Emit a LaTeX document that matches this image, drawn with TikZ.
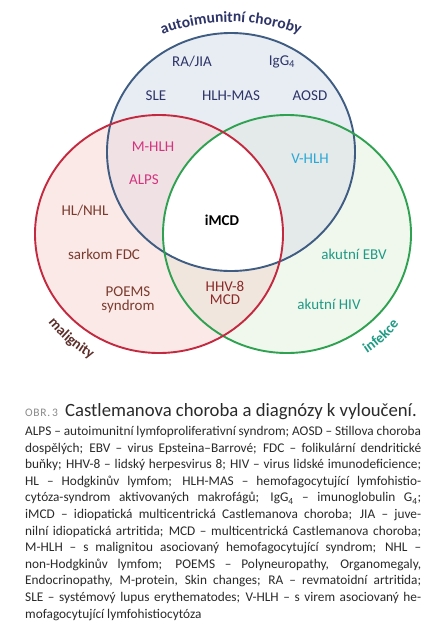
\documentclass[tikz,border=0pt]{standalone}
\usepackage{fontspec}
\setmainfont{Carlito}
\usetikzlibrary{decorations.text}
\definecolor{bfill}{HTML}{E7EDF3}
\definecolor{rfill}{HTML}{FBE9E7}
\definecolor{gfill}{HTML}{F0F8EE}
\definecolor{rbfill}{HTML}{EFE1E4}
\definecolor{gbfill}{HTML}{E4E9EA}
\definecolor{rgfill}{HTML}{F1E6DD}
\definecolor{bline}{HTML}{3F5C82}
\definecolor{rline}{HTML}{C32A40}
\definecolor{gline}{HTML}{2FA251}
\definecolor{navy}{HTML}{2D3468}
\definecolor{magen}{HTML}{D6337F}
\definecolor{cyanl}{HTML}{29A9D6}
\definecolor{brownl}{HTML}{7A3B2E}
\definecolor{hhv}{HTML}{8A2A2A}
\definecolor{teall}{HTML}{1F9A84}
\definecolor{malcol}{HTML}{5C2E2A}
\definecolor{capgrey}{HTML}{8A8A8A}
\definecolor{txt}{HTML}{2A2A2A}
\tikzset{
  lab/.style={inner sep=0pt, align=center, font=\fontsize{15}{15}\selectfont},
  ring/.style={line width=1.9pt},
}
\begin{document}
\begin{tikzpicture}[x=1pt,y=-1pt]
\useasboundingbox[fill=white] (0,0) rectangle (442,633);
\coordinate (B) at (231,152);
\coordinate (R) at (159,234);
\coordinate (G) at (287,234);
% region fills
\fill[rfill] (R) ellipse[x radius=124, y radius=119];
\fill[gfill] (G) ellipse[x radius=124, y radius=119];
\fill[bfill] (B) ellipse[x radius=124, y radius=119];
\begin{scope}
  \clip (R) ellipse[x radius=124, y radius=119];
  \fill[rbfill] (B) ellipse[x radius=124, y radius=119];
\end{scope}
\begin{scope}
  \clip (G) ellipse[x radius=124, y radius=119];
  \fill[gbfill] (B) ellipse[x radius=124, y radius=119];
\end{scope}
\begin{scope}
  \clip (R) ellipse[x radius=124, y radius=119];
  \fill[rgfill] (G) ellipse[x radius=124, y radius=119];
\end{scope}
\begin{scope}
  \clip (R) ellipse[x radius=124, y radius=119];
  \clip (G) ellipse[x radius=124, y radius=119];
  \fill[white] (B) ellipse[x radius=124, y radius=119];
\end{scope}
% outlines
\draw[ring, bline] (B) ellipse[x radius=124, y radius=119];
\draw[ring, gline] (G) ellipse[x radius=124, y radius=119];
\draw[ring, rline] (R) ellipse[x radius=124, y radius=119];
% curved titles
\path[decorate, decoration={text along path, text align=center,
  text={|\fontsize{15.5}{15.5}\selectfont\bfseries\color{navy}|autoimunitní choroby}}]
  (231,217) ++(-120:195) arc[start angle=-120, end angle=-60, radius=195];
\path[decorate, decoration={text along path, text align=center,
  text={|\fontsize{14.5}{14.5}\selectfont\bfseries\color{malcol}|malignity}}]
  (R) ++(165:142) arc[start angle=165, end angle=95, radius=142];
\path[decorate, decoration={text along path, text align=center,
  text={|\fontsize{14.5}{14.5}\selectfont\bfseries\color{teall}|infekce}}]
  (G) ++(80:144) arc[start angle=80, end angle=15, radius=144];
% labels
\node[lab, text=navy] (raj) at (192,62) {RA/JIA};
\node[lab, text=navy] (igg) at (282,62) {IgG\textsubscript{4}};
\node[lab, text=navy] (sle) at (156,96) {SLE};
\node[lab, text=navy] (hlhmas) at (231,96) {HLH-MAS};
\node[lab, text=navy] (aosd) at (310,96) {AOSD};
\node[lab, text=magen] (mhlh) at (153,147) {M-HLH};
\node[lab, text=magen] (alps) at (144,180) {ALPS};
\node[lab, text=cyanl] (vhlh) at (310,159) {V-HLH};
\node[lab, text=brownl] (hl) at (85,211) {HL/NHL};
\node[lab, text=black, font=\fontsize{15}{15}\selectfont\bfseries] (imcd) at (222,220) {iMCD};
\node[lab, text=brownl] (fdc) at (104,254) {sarkom FDC};
\node[lab, text=teall] (ebv) at (354,254) {akutní EBV};
\node[lab, text=brownl, font=\fontsize{15}{14}\selectfont] (poems) at (128,300) {POEMS\\syndrom};
\node[lab, text=hhv, font=\fontsize{15}{13}\selectfont] (hhv8) at (225,293) {HHV-8\\MCD};
\node[lab, text=teall] (hiv) at (329,304) {akutní HIV};
% caption
\node[anchor=base west, inner sep=0pt, text=capgrey, font=\fontsize{11.5}{11.5}\selectfont\addfontfeature{LetterSpace=6}] (obr) at (25,416) {OBR.\,3};
\node[anchor=base west, inner sep=0pt, text=txt, font=\fontsize{18.7}{18.7}\selectfont] (title) at (65,416) {Castlemanova choroba a diagnózy k vyloučení.};
\node[anchor=north west, inner sep=0pt, text=txt, font=\fontsize{13.3}{16.6}\selectfont] (legend) at (25,426) {\vbox{\baselineskip=16.6pt
\hbox to 396pt{ALPS – autoimunitní lymfoproliferativní syndrom; AOSD – Stillova choroba}
\hbox to 396pt{dospělých; EBV – virus Epsteina–Barrové; FDC – folikulární dendritické}
\hbox to 396pt{buňky; HHV-8 – lidský herpesvirus 8; HIV – virus lidské imunodeficience;}
\hbox to 396pt{HL – Hodgkinův lymfom; HLH-MAS – hemofagocytující lymfohistio-}
\hbox to 396pt{cytóza-syndrom aktivovaných makrofágů; IgG\textsubscript{4} – imunoglobulin G\textsubscript{4};}
\hbox to 396pt{iMCD – idiopatická multicentrická Castlemanova choroba; JIA – juve-}
\hbox to 396pt{nilní idiopatická artritida; MCD – multicentrická Castlemanova choroba;}
\hbox to 396pt{M-HLH – s malignitou asociovaný hemofagocytující syndrom; NHL –}
\hbox to 396pt{non-Hodgkinův lymfom; POEMS – Polyneuropathy, Organomegaly,}
\hbox to 396pt{Endocrinopathy, M-protein, Skin changes; RA – revmatoidní artritida;}
\hbox to 396pt{SLE – systémový lupus erythematodes; V-HLH – s virem asociovaný he-}
\hbox{mofagocytující lymfohistiocytóza}}};
\end{tikzpicture}
\end{document}
